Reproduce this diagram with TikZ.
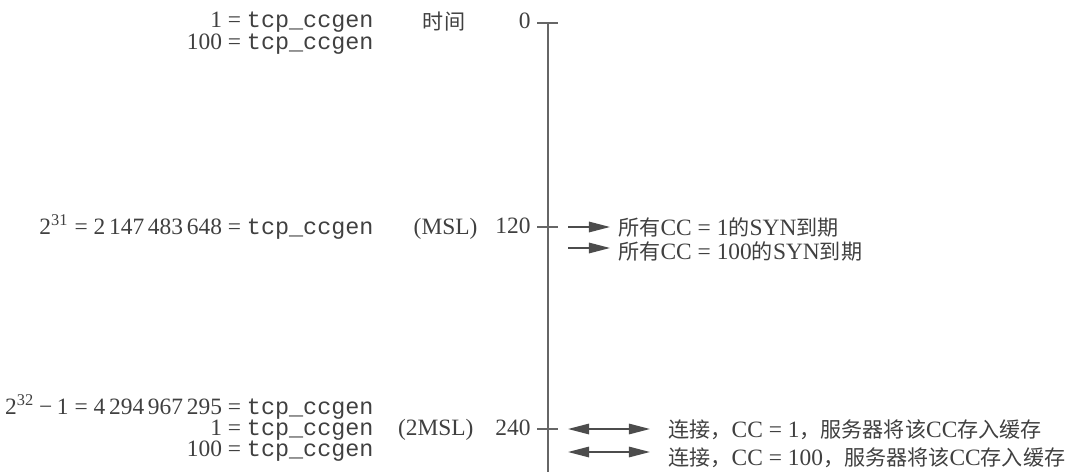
\documentclass[tikz,border=0pt]{standalone}
\usepackage{fontspec}
\setmainfont{Liberation Serif}
\setmonofont{Liberation Mono}
\newfontfamily\cjk{Noto Sans CJK SC}[Scale=0.9]
\newcommand{\zh}[1]{{\cjk #1}}
\newcommand{\ccgen}{\texttt{tcp\_ccgen}}
\newcommand{\gap}{\kern1.6pt}
\usetikzlibrary{arrows.meta, positioning}

\begin{document}
\begin{tikzpicture}[
        x=0.015cm, y=-0.015cm,
        every node/.style={text=black!75, font=\fontsize{10}{12}\selectfont},
        genval/.style={anchor=base east, inner sep=0pt},
        timelabel/.style={anchor=base east, inner sep=0pt},
        event/.style={anchor=base west, inner xsep=3.4pt, inner ysep=0pt},
        axis/.style={line width=0.6pt, black!60},
        oneway/.style={-{Triangle[length=9pt, width=4.5pt]}, line width=0.6pt, black!70},
        twoway/.style={{Triangle[length=9pt, width=4.5pt]}-{Triangle[length=9pt, width=4.5pt]}, line width=0.6pt, black!70, shorten >=4.3pt}
    ]
    \useasboundingbox (0,0) rectangle (1083,475);

    % --- Time axis ---
    \coordinate (top) at (548,23);
    \coordinate (bottom) at (548,472);
    \draw[axis] (top) -- (bottom);
    \foreach \y/\lab/\name in {23/0/t0, 227/120/t120, 429/240/t240} {
        \coordinate (\name) at (548,\y);
        \draw[axis] (\name) ++(-11,0) -- ++(21,0);
        \node[timelabel] (l\name) at (531,\y+6) {\lab};
    }
    \node (time) at (444,22) {\zh{时间}};
    \node[timelabel] (msl) at (478,234) {(MSL)};
    \node[timelabel] (twomsl) at (474,435) {(2MSL)};

    % --- Left: values of tcp_ccgen ---
    \node[genval] (g1) at (374,28) {1 = \ccgen};
    \node[genval] (g2) at (374,49) {100 = \ccgen};
    \node[genval] (g3) at (374,234) {2\textsuperscript{31} = 2\gap147\gap483\gap648 = \ccgen};
    \node[genval] (g4) at (374,414) {2\textsuperscript{32}\kern2pt−\kern2pt1 = 4\gap294\gap967\gap295 = \ccgen};
    \node[genval] (g5) at (374,435) {1 = \ccgen};
    \node[genval] (g6) at (374,456) {100 = \ccgen};

    % --- Right: events at MSL ---
    \coordinate (s1) at (568,227);
    \coordinate (s2) at (568,248);
    \node[event] (e1) at (610,235) {\zh{所有}CC = 1\zh{的}SYN\zh{到期}};
    \node[event] (e2) at (610,259) {\zh{所有}CC = 100\zh{的}SYN\zh{到期}};
    \draw[oneway] (s1) -- (s1 -| e1.west);
    \draw[oneway] (s2) -- (s2 -| e2.west);

    % --- Right: events at 2MSL ---
    \coordinate (s3) at (568,429);
    \coordinate (s4) at (568,452);
    \node[event] (e3) at (660,437) {\zh{连接，}CC = 1\zh{，服务器将该}CC\zh{存入缓存}};
    \node[event] (e4) at (660,465) {\zh{连接，}CC = 100\zh{，服务器将该}CC\zh{存入缓存}};
    \draw[twoway] (s3) -- (s3 -| e3.west);
    \draw[twoway] (s4) -- (s4 -| e4.west);

\end{tikzpicture}
\end{document}
